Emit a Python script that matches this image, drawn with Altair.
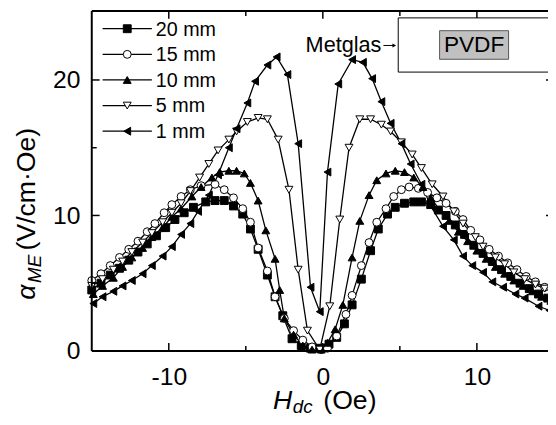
import altair as alt
import pandas as pd

# ---------------- data ----------------
series = ["20 mm", "15 mm", "10 mm", "5 mm", "1 mm"]

h_20 = [-15.0, -14.4, -13.8, -13.2, -12.6, -12.0, -11.4, -10.8, -10.2, -9.6, -9.0, -8.4, -7.6, -7.0, -6.4,
        -5.8, -5.2, -4.7, -4.2, -3.6, -3.1, -2.6, -2.0, -1.4, -0.8, -0.2, 0.4, 0.9, 1.4, 1.9, 2.5, 3.1,
        3.6, 4.2, 4.7, 5.3, 5.9, 6.4, 7.0, 7.5, 8.0, 8.6, 9.2, 9.8, 10.4, 11.0, 11.6, 12.2, 12.8, 13.4,
        14.0, 14.6, 15.0]
a_20 = [4.5, 5.0, 5.6, 6.1, 6.7, 7.3, 7.9, 8.5, 9.1, 9.7, 10.2, 10.6, 11.0, 11.1, 11.1,
        10.7, 10.1, 9.0, 7.5, 5.6, 4.0, 2.6, 0.9, 0.4, 0.2, 0.2, 0.5, 1.0, 2.0, 3.4, 5.3, 7.4,
        9.0, 10.1, 10.6, 10.9, 11.0, 11.0, 10.8, 10.4, 10.0, 9.3, 8.6, 7.8, 7.2, 6.6, 6.0, 5.5, 5.0, 4.6,
        4.2, 3.9, 3.7]

h_15 = [-15.0, -14.4, -13.8, -13.2, -12.6, -12.0, -11.4, -10.9, -10.3, -9.8, -9.2, -8.6, -7.9, -7.0, -6.4,
        -5.8, -5.2, -4.7, -4.2, -3.6, -3.1, -2.5, -1.9, -1.3, -0.7, -0.1, 0.3, 0.9, 1.5, 1.9, 2.5, 3.0,
        3.5, 4.1, 4.6, 5.1, 5.6, 6.2, 6.8, 7.4, 8.0, 8.6, 9.1, 9.6, 10.2, 10.8, 11.4, 12.0, 12.6, 13.2,
        13.8, 14.4, 15.0]
a_15 = [5.2, 5.7, 6.3, 6.9, 7.5, 8.1, 8.8, 9.4, 10.2, 10.8, 11.4, 11.9, 12.2, 12.3, 11.9,
        11.3, 10.5, 9.5, 7.6, 5.9, 4.0, 2.4, 1.5, 0.8, 0.3, 0.1, 0.2, 1.1, 2.7, 4.1, 6.3, 8.0,
        9.5, 10.5, 11.4, 11.9, 12.1, 12.0, 11.7, 11.3, 10.9, 10.3, 9.7, 8.9, 8.2, 7.5, 7.0, 6.5, 6.0, 5.5,
        5.1, 4.7, 4.3]

h_10 = [-14.9, -14.3, -13.6, -13.0, -12.4, -11.7, -11.1, -10.4, -9.8, -9.2, -8.5, -7.9, -7.2, -6.7, -6.1,
        -5.6, -5.1, -4.7, -4.2, -3.7, -3.1, -2.8, -2.5, -1.9, -1.3, -0.7, -0.1, 0.3, 0.8, 1.3, 1.9, 2.4,
        3.0, 3.5, 4.1, 4.7, 5.3, 5.9, 6.5, 7.0, 7.6, 8.2, 8.8, 9.4, 10.0, 10.6, 11.2, 11.8, 12.4, 13.0,
        13.6, 14.2, 14.8]
a_10 = [4.2, 4.8, 5.4, 6.2, 6.9, 7.6, 8.4, 9.1, 9.9, 10.5, 11.4, 12.1, 12.8, 13.2, 13.3,
        13.3, 13.1, 12.4, 11.1, 8.9, 6.8, 4.5, 2.4, 1.2, 0.4, 0.1, 0.1, 0.6, 1.6, 3.4, 6.9, 9.6,
        11.5, 12.6, 13.1, 13.3, 13.2, 12.8, 12.1, 11.3, 10.4, 9.6, 8.8, 8.1, 7.4, 6.8, 6.2, 5.7, 5.2, 4.8,
        4.4, 4.0, 3.7]

h_5 = [-15.0, -14.3, -13.6, -13.0, -12.4, -11.7, -11.1, -10.4, -9.8, -9.2, -8.6, -8.0, -7.4, -6.8, -6.1,
       -5.6, -4.9, -4.2, -3.6, -2.9, -2.2, -1.6, -1.0, -0.2, 0.45, 1.1, 1.7, 2.4, 3.1, 3.8, 4.4, 5.1,
       5.8, 6.4, 7.1, 7.8, 8.5, 9.1, 9.9, 10.4, 11.2, 11.8, 12.4, 13.1, 13.8, 14.4, 15.0]
a_5 = [4.8, 5.3, 6.0, 6.6, 7.3, 8.0, 8.7, 9.5, 10.2, 10.9, 11.8, 12.8, 13.8, 14.8, 15.6,
       16.2, 16.9, 17.2, 17.1, 15.6, 11.9, 6.0, 1.5, 0.1, 3.3, 9.7, 15.0, 17.1, 17.1, 16.7, 16.2, 15.4,
       14.5, 13.5, 12.3, 11.4, 10.3, 9.4, 8.4, 7.7, 6.9, 6.4, 5.8, 5.3, 4.9, 4.6, 4.4]

h_1 = [-14.9, -14.3, -13.6, -13.0, -12.4, -11.7, -11.1, -10.4, -9.8, -9.2, -8.6, -8.1, -7.4, -6.8, -6.1,
       -5.6, -4.9, -4.4, -3.6, -3.0, -2.3, -1.6, -0.8, -0.2, 0.3, 1.0, 1.9, 2.6, 3.2, 3.8, 4.4, 5.1,
       5.7, 6.4, 7.0, 7.8, 8.5, 9.1, 9.7, 10.4, 11.0, 11.7, 12.5, 13.1, 14.0, 14.7]
a_1 = [3.5, 4.0, 4.4, 4.8, 5.2, 5.7, 6.3, 7.0, 7.7, 8.6, 9.4, 10.3, 11.5, 13.0, 15.0,
       16.4, 18.3, 19.9, 21.1, 21.7, 20.4, 15.3, 4.7, 2.9, 13.2, 19.7, 21.5, 21.3, 20.1, 18.4, 16.8, 15.3,
       13.8, 12.3, 10.7, 9.2, 8.2, 7.0, 6.3, 5.8, 5.1, 4.7, 4.2, 3.9, 3.3, 3.0]

x_major_ticks = [-10, 0, 10]
x_minor_ticks = [-5, 5]
y_major_ticks = [10, 20]
y_minor_ticks = [5, 15]
x_labels = [-10, 0, 10]
y_labels = [0, 10, 20]

# ---------------- build table ----------------
rows = []
for name, hs, avals in zip(series, [h_20, h_15, h_10, h_5, h_1], [a_20, a_15, a_10, a_5, a_1]):
    for i, (hv, av) in enumerate(zip(hs, avals)):
        rows.append({"series": name, "H": hv, "alpha": av, "order": i})
df = pd.DataFrame(rows)

# full frame is 469 px wide (-15..15), but the picture is cut at 463 px
FULL_W = 469
W, HT = 463, 345
PXU = FULL_W / 30.0
FONT = "Liberation Sans"
xscale = alt.Scale(domain=[-15, -15 + W / PXU], nice=False, zero=False)
yscale = alt.Scale(domain=[0, HT / 13.75], nice=False, zero=False)

shapes = ["square", "circle", "triangle-up", "triangle-down", "triangle-left"]
fills = ["black", "white", "black", "white", "black"]
SIZE = 64

x_axis = alt.Axis(values=x_labels, ticks=False, tickSize=0, domain=False, grid=False,
                  labelFont=FONT, labelFontSize=25, labelColor="black", labelPadding=14,
                  labelExpr="'' + datum.value", title=None)
y_axis = alt.Axis(values=y_labels, ticks=False, tickSize=0, domain=False, grid=False,
                  labelFont=FONT, labelFontSize=25, labelColor="black", labelPadding=12,
                  labelExpr="'' + datum.value", title=None)

X = lambda f: alt.X(f, scale=xscale, axis=x_axis)
Y = lambda f: alt.Y(f, scale=yscale, axis=y_axis)

base = alt.Chart(df)
lines = base.mark_line(color="black", strokeWidth=1.3).encode(
    x=X("H:Q"), y=Y("alpha:Q"), detail="series:N", order="order:Q",
)
points = base.mark_point(filled=True, size=SIZE, stroke="black", strokeWidth=1, opacity=1).encode(
    x=X("H:Q"), y=Y("alpha:Q"),
    shape=alt.Shape("series:N", scale=alt.Scale(domain=series, range=shapes), legend=None),
    fill=alt.Fill("series:N", scale=alt.Scale(domain=series, range=fills), legend=None),
)

layers = [lines, points]
one = pd.DataFrame({"k": [0]})

# ---------------- frame (right side lies outside the picture) ----------------
RIGHT = FULL_W
for enc in [dict(x=alt.value(0), x2=alt.value(RIGHT), y=alt.value(0)),
            dict(x=alt.value(0), x2=alt.value(RIGHT), y=alt.value(HT)),
            dict(x=alt.value(0), y=alt.value(0), y2=alt.value(HT)),
            dict(x=alt.value(RIGHT), y=alt.value(0), y2=alt.value(HT))]:
    layers.append(alt.Chart(one).mark_rule(color="black", strokeWidth=2).encode(**enc))

# ---------------- inward ticks on all four sides ----------------
def xticks(vals, length):
    d = pd.DataFrame({"v": vals})
    bot = alt.Chart(d).mark_rule(color="black", strokeWidth=1.5).encode(
        x=X("v:Q"), y=alt.value(HT), y2=alt.value(HT - length))
    top = alt.Chart(d).mark_rule(color="black", strokeWidth=1.5).encode(
        x=X("v:Q"), y=alt.value(0), y2=alt.value(length))
    return [bot, top]

def yticks(vals, length):
    d = pd.DataFrame({"v": vals})
    left = alt.Chart(d).mark_rule(color="black", strokeWidth=1.5).encode(
        y=Y("v:Q"), x=alt.value(0), x2=alt.value(length))
    right = alt.Chart(d).mark_rule(color="black", strokeWidth=1.5).encode(
        y=Y("v:Q"), x=alt.value(RIGHT), x2=alt.value(RIGHT - length))
    return [left, right]

layers += xticks(x_major_ticks, 8) + xticks(x_minor_ticks, 5)
layers += yticks(y_major_ticks, 8) + yticks(y_minor_ticks, 5)

# ---------------- legend ----------------
leg_y0, leg_dy = 18, 26
for i, name in enumerate(series):
    yy = leg_y0 + i * leg_dy
    layers.append(alt.Chart(one).mark_rule(color="black", strokeWidth=1.3).encode(
        x=alt.value(11), x2=alt.value(61), y=alt.value(yy)))
    layers.append(alt.Chart(one).mark_point(shape=shapes[i], filled=True, fill=fills[i], stroke="black",
                                            strokeWidth=1, size=SIZE, opacity=1).encode(
        x=alt.value(36), y=alt.value(yy)))
    layers.append(alt.Chart(one).mark_text(text=name, font=FONT, fontSize=20, align="left",
                                           baseline="middle", color="black").encode(
        x=alt.value(65), y=alt.value(yy + 1)))

# ---------------- inset ----------------
layers.append(alt.Chart(one).mark_rect(fill="white", stroke="black", strokeWidth=1).encode(
    x=alt.value(311), x2=alt.value(490), y=alt.value(7), y2=alt.value(62)))
layers.append(alt.Chart(one).mark_rect(fill="#c0c0c0", stroke="#555555", strokeWidth=1).encode(
    x=alt.value(353), x2=alt.value(423), y=alt.value(20), y2=alt.value(49)))
layers.append(alt.Chart(one).mark_text(text="PVDF", font=FONT, fontSize=23, align="center",
                                       baseline="middle", color="black").encode(
    x=alt.value(388), y=alt.value(35)))
layers.append(alt.Chart(one).mark_text(text="Metglas", font=FONT, fontSize=22, align="right",
                                       baseline="middle", color="black").encode(
    x=alt.value(294), y=alt.value(35)))
layers.append(alt.Chart(one).mark_rule(color="black", strokeWidth=1).encode(
    x=alt.value(296), x2=alt.value(306), y=alt.value(35)))
layers.append(alt.Chart(one).mark_point(shape="triangle-right", filled=True, fill="black",
                                        size=18, opacity=1).encode(
    x=alt.value(307), y=alt.value(35)))

# ---------------- axis titles (rich text pieces) ----------------
def txt(s, x, y, size, style="normal", angle=0, align="left"):
    kw = dict(text=s, font=FONT, fontSize=size, fontStyle=style, align=align,
              baseline="alphabetic", color="black")
    if angle:
        kw["angle"] = angle
    return alt.Chart(one).mark_text(**kw).encode(x=alt.value(x), y=alt.value(y))

# x title: H_dc (Oe)
layers.append(txt("H", 184, 404, 27, "italic"))
layers.append(txt("dc", 204, 408, 19, "italic"))
layers.append(txt("(Oe)", 235, 404, 27))
# y title: alpha_ME (V/cm·Oe), rotated
layers.append(txt("α", -58, 293, 27, "italic", angle=270))
layers.append(txt("ME", -52, 276, 19, "italic", angle=270))
layers.append(txt("(V/cm·Oe)", -58, 243, 27, angle=270))

chart = alt.layer(*layers).properties(
    width=W, height=HT,
    autosize=alt.AutoSizeParams(type="none"),
    padding={"left": 85, "top": 0, "right": 0, "bottom": 64},
).configure_view(stroke=None)

chart.save("out.html", embed_options={"renderer": "svg", "actions": False})
